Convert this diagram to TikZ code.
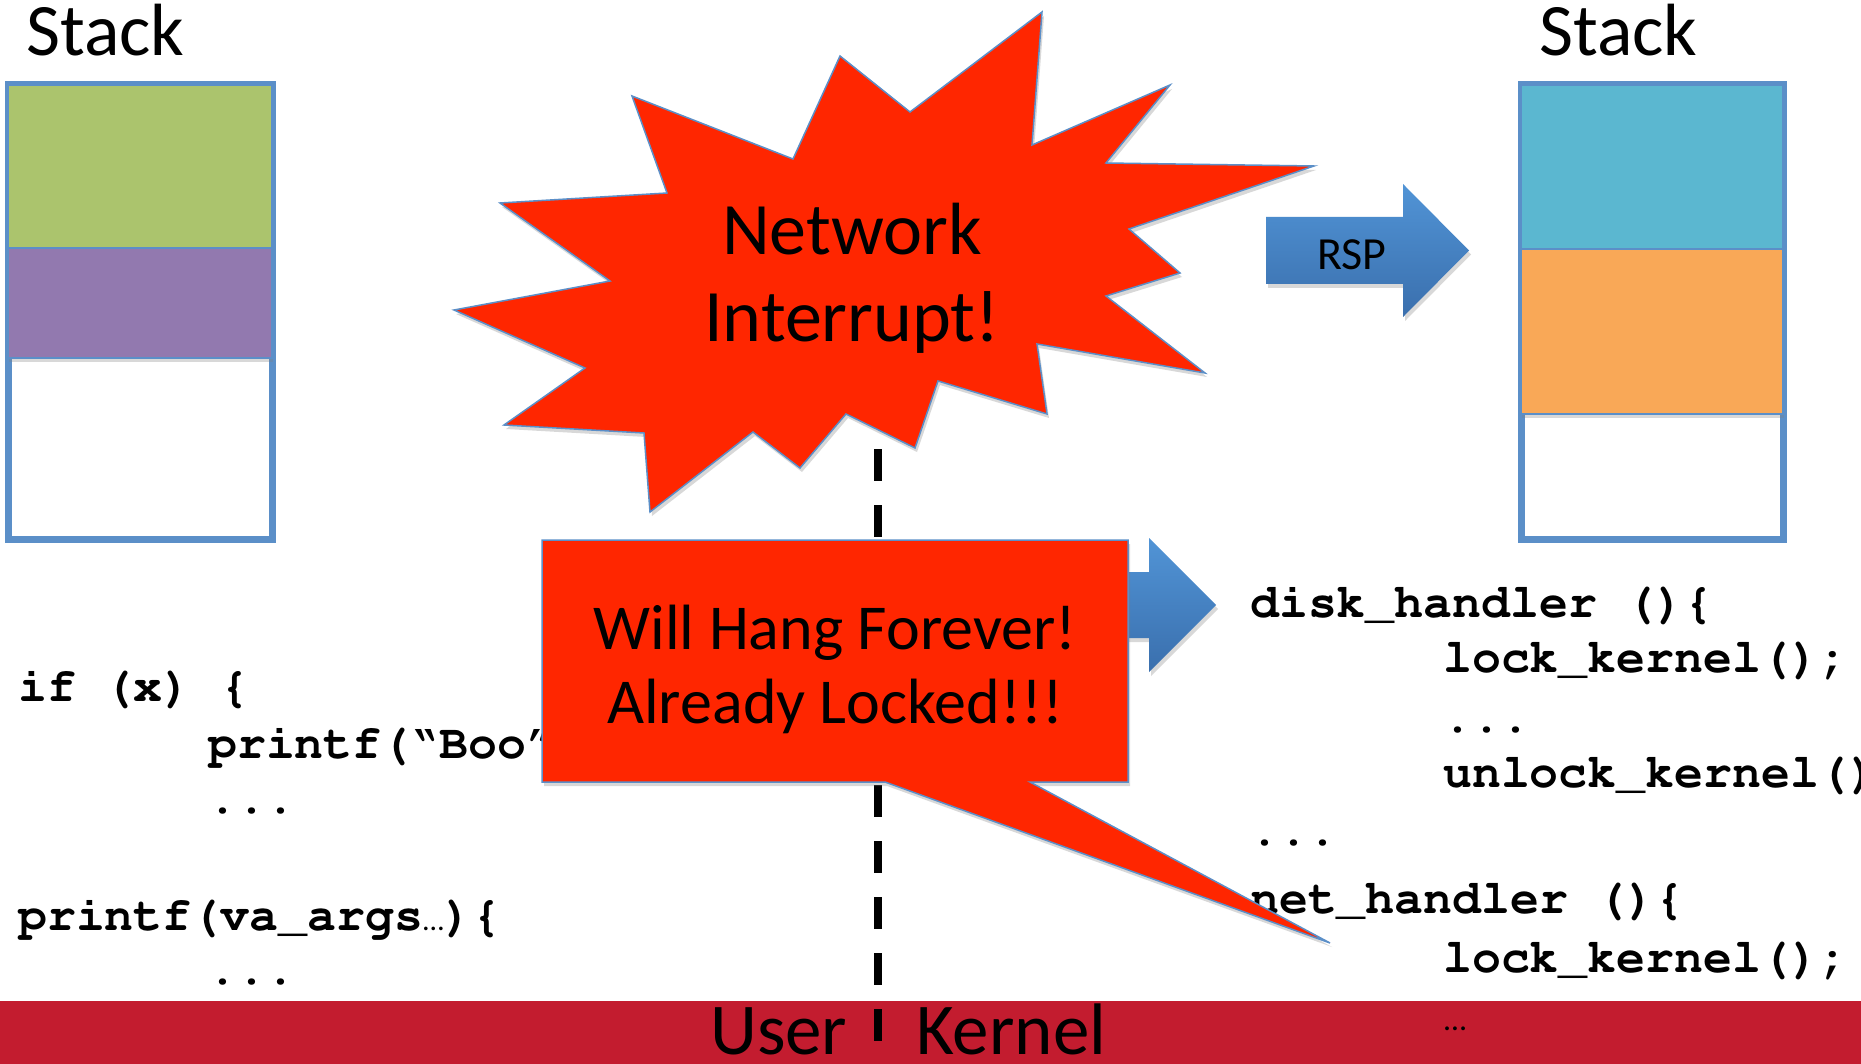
\documentclass[tikz,border=0pt]{standalone}
\usepackage[T1]{fontenc}
\usepackage{fontspec}
\setmainfont{Carlito}
\setmonofont{Liberation Mono}
\usetikzlibrary{shadows}
\newcommand{\courierbold}{\fontencoding{T1}\fontfamily{pcr}\fontseries{b}\fontshape{n}\fontsize{48.2}{55}\selectfont}
\definecolor{stackblue}{HTML}{5B8FC8}
\definecolor{stackgreen}{HTML}{ABC46D}
\definecolor{stackpurple}{HTML}{9279AF}
\definecolor{stackcyan}{HTML}{5BB7D0}
\definecolor{stackorange}{HTML}{F9A857}
\definecolor{burstred}{HTML}{FF2600}
\definecolor{outlineblue}{HTML}{5B8FC8}
\definecolor{arrowtop}{HTML}{5194D6}
\definecolor{arrowbot}{HTML}{3A6FAD}
\definecolor{barred}{HTML}{C31C2F}
\begin{document}
\begin{tikzpicture}[x=1pt,y=-1pt,
  biglbl/.style={font=\fontsize{74}{80}\selectfont, inner sep=0pt, anchor=base},
  codetxt/.style={font=\courierbold, inner sep=0pt, anchor=base west},
  calltxt/.style={font=\fontsize{64}{70}\selectfont, inner sep=0pt, anchor=base},
  outerstack/.style={draw=stackblue, fill=white, line width=7pt},
  innerstack/.style={draw=stackblue, line width=2pt},
  softshadow/.style={drop shadow={opacity=0.3, shadow xshift=1pt, shadow yshift=-4pt}},
  bluearrow/.style={top color=arrowtop, bottom color=arrowbot, draw=none,
     drop shadow={opacity=0.3, shadow xshift=2pt, shadow yshift=-4pt}},
  redshape/.style={fill=burstred, draw=outlineblue, line width=1.5pt,
     drop shadow={opacity=0.3, shadow xshift=2pt, shadow yshift=-4pt}}
]
\useasboundingbox (0,0) rectangle (1861,1064);
\clip (0,0) rectangle (1861,1064);
\fill[white] (0,0) rectangle (1861,1064);

% ---------- left stack ----------
\node[biglbl, anchor=base west] (stackL) at (26,56) {Stack};
\draw[outerstack] (8,85) rectangle (272,539);
\filldraw[innerstack, fill=stackgreen] (8,85) rectangle (272,248);
\filldraw[innerstack, fill=stackpurple, softshadow] (8,248) rectangle (272,358);

% ---------- right stack ----------
\node[biglbl, anchor=base west] (stackR) at (1539,56) {Stack};
\draw[outerstack] (1521,85) rectangle (1783,539);
\filldraw[innerstack, fill=stackcyan] (1521,85) rectangle (1783,249);
\filldraw[innerstack, fill=stackorange, softshadow] (1521,249) rectangle (1783,414);

% ---------- RSP arrow ----------
\path[bluearrow] (1266,217) -- (1403,217) -- (1403,184) -- (1469,250.5)
   -- (1403,317) -- (1403,284) -- (1266,284) -- cycle;
\node[font=\fontsize{46}{50}\selectfont, inner sep=0pt, anchor=base] (rsp) at (1352,270) {RSP};

% ---------- starburst ----------
\path[redshape] (1042,12) -- (1032,145) -- (1170,85) -- (1106,163) -- (1314,166)
  -- (1129,229) -- (1180,273) -- (1106,296) -- (1205,373) -- (1037,344)
  -- (1047,414) -- (938,381) -- (915,448) -- (846,414) -- (800,468)
  -- (753,432) -- (650,512) -- (644,433) -- (504,425) -- (585,368)
  -- (454,310) -- (610,281) -- (500,203) -- (667,193) -- (632,96)
  -- (793,159) -- (840,56) -- (910,112) -- cycle;
\node[biglbl] (net1) at (852,255) {Network};
\node[biglbl] (net2) at (852,342) {Interrupt!};

% ---------- left code ----------
\node[codetxt] (c1) at (18,701) {if (x) \{};
\node[codetxt] (c2) at (208,758) {printf(\textquotedblleft Boo\textquotedblright};
\node[codetxt] (c3) at (208,813) {...};
\node[codetxt] (c4) at (18,930) {printf(va\_args{\fontencoding{TU}\fontfamily{\rmdefault}\fontseries{m}\fontsize{30}{30}\selectfont …}){\{}};
\node[codetxt] (c5) at (208,984) {...};

% ---------- right code ----------
\node[codetxt] (d1) at (1250,617) {disk\_handler ()\{};
\node[codetxt] (d2) at (1443,672) {lock\_kernel();};
\node[codetxt] (d3) at (1443,732) {...};
\node[codetxt] (d4) at (1443,787) {unlock\_kernel()};
\node[codetxt] (d5) at (1250,845) {...};
\node[codetxt] (d6) at (1250,913) {net\_handler ()\{};
\node[codetxt] (d7) at (1443,972) {lock\_kernel();};

% ---------- second blue arrow (behind callout) ----------
\path[bluearrow] (1012,572) -- (1149,572) -- (1149,538) -- (1216,605)
   -- (1149,672) -- (1149,638) -- (1012,638) -- cycle;

% ---------- bottom bar ----------
\fill[barred] (0,1001) rectangle (1861,1064);

% ---------- dashed divider ----------
\coordinate (dtop) at (878,449);
\coordinate (dbot) at (878,1041);
\draw[line width=8pt, dash pattern=on 32pt off 24pt] (dtop) -- (dbot);

% ---------- callout ----------
\path[redshape] (542,540) -- (1128,540) -- (1128,782) -- (1030,782) -- (1330,943)
  -- (885,782) -- (542,782) -- cycle;
\node[calltxt] (w1) at (835,649) {Will Hang Forever!};
\node[calltxt] (w2) at (835,723) {Already Locked!!!};

% ---------- bar labels ----------
\node[font=\fontsize{73}{80}\selectfont, inner sep=0pt, anchor=base west] (user) at (710,1054) {User};
\node[font=\fontsize{73}{80}\selectfont, inner sep=0pt, anchor=base west] (kernel) at (916,1054) {Kernel};
\node[font=\fontsize{32}{34}\selectfont, inner sep=0pt, anchor=base west] (dots) at (1444,1030) {…};
\end{tikzpicture}
\end{document}
